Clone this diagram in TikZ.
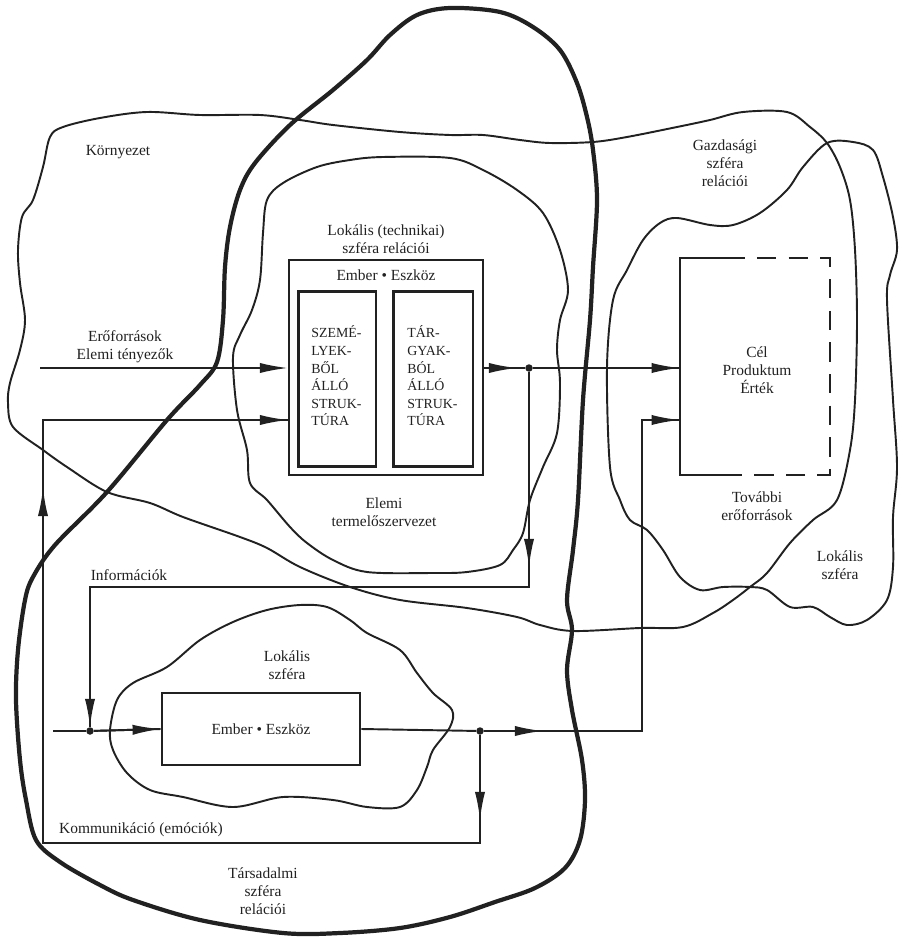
\documentclass[tikz,border=0pt]{standalone}
\usepackage{fontspec}
\setmainfont{Liberation Serif}
\usetikzlibrary{arrows.meta}
\definecolor{ink}{gray}{0.13}
\begin{document}
\begin{tikzpicture}[x=0.02cm,y=-0.02cm,
 every node/.style={font=\fontsize{8.8}{10.2}\selectfont, text=ink, inner sep=0pt},
 blob/.style={draw=ink, line width=1.1pt, line join=round},
 thickblob/.style={draw=ink, line width=2.4pt, line join=round},
 conn/.style={draw=ink, line width=1.1pt},
 arr/.style={draw=ink, line width=1.1pt, -{Latex[length=16pt,width=5.8pt]}},
 dot/.style={circle, fill=ink, minimum size=0.15cm, inner sep=0pt},
 lbl/.style={align=center},
 capsbox/.style={draw=ink, line width=1.7pt, minimum height=3.52cm},
 capstext/.style={anchor=west, align=left, font=\fontsize{7.9}{10}\selectfont}]

\useasboundingbox (0,0) rectangle (902,939);

% ---------- spheres ----------
% Környezet
\draw[blob] plot[smooth cycle, tension=0.55] coordinates {
 (63,127) (100,118) (147,112) (200,115) (260,115) (300,120) (333,125) (400,132)
 (450,135) (483,135) (520,140) (550,143) (593,142) (627,137) (677,127) (710,120)
 (743,112) (787,112) (810,127) (827,143) (840,167) (850,200) (855,250) (857,320)
 (855,400) (850,450) (837,500) (813,520) (790,543) (767,573) (750,587) (733,600)
 (713,613) (683,627) (640,628) (573,631) (540,625) (517,617) (467,608) (400,600)
 (350,587) (300,567) (267,548) (240,537) (183,517) (150,503) (107,492) (67,467)
 (43,450) (13,427) (8,403) (10,383) (20,350) (25,320) (20,283) (18,250) (22,217)
 (33,200) (43,167) (50,137)};
% Lokális (technikai)
\draw[blob] plot[smooth cycle, tension=0.55] coordinates {
 (267,200) (283,183) (317,167) (350,160) (383,157) (450,158) (483,170) (517,190)
 (543,213) (560,250) (568,290) (560,320) (557,350) (560,383) (557,433) (543,467)
 (530,500) (523,533) (513,550) (500,565) (467,572) (433,573) (367,572) (333,560)
 (307,543) (290,527) (267,500) (250,483) (247,450) (237,410) (233,357) (240,335)
 (252,310) (260,280) (263,233)};
% right Lokális szféra
\draw[blob] plot[smooth cycle, tension=0.55] coordinates {
 (627,270) (643,240) (660,223) (677,218) (710,225) (733,225) (760,213) (787,190)
 (803,167) (827,143) (853,142) (873,150) (883,177) (893,217) (897,250) (890,275)
 (887,300) (893,400) (897,467) (893,517) (893,567) (887,600) (867,620) (847,625)
 (830,617) (813,607) (790,607) (767,590) (750,587) (723,587) (700,590) (680,577)
 (663,550) (647,530) (630,520) (620,500) (610,467) (607,367) (613,300)};
% lower Lokális szféra
\draw[blob] plot[smooth cycle, tension=0.55] coordinates {
 (110,730) (117,700) (133,683) (167,667) (200,640) (233,622) (267,610) (300,605)
 (327,607) (350,620) (367,633) (400,650) (417,673) (433,693) (452,710) (450,727)
 (433,750) (427,767) (417,790) (400,807) (367,807) (333,800) (283,797) (233,807)
 (183,797) (150,790) (127,773) (113,750)};
% Társadalmi szféra (thick)
\draw[thickblob] plot[smooth cycle, tension=0.55] coordinates {
 (450,8) (500,12) (533,27) (560,50) (577,83) (587,117) (593,150) (597,200)
 (593,267) (590,320) (583,400) (578,500) (573,550) (567,600) (572,630) (567,670)
 (572,710) (582,760) (585,800) (580,840) (565,868) (535,888) (495,902) (450,917)
 (400,928) (340,933) (283,933) (200,920) (133,900) (100,885) (60,862) (36,840)
 (26,800) (20,760) (16,700) (18,650) (25,600) (33,577) (55,545) (107,492)
 (167,420) (200,385) (217,362) (223,320) (225,267) (230,227) (240,190) (255,163)
 (290,125) (333,90) (367,60) (390,35) (417,15)};

% ---------- boxes ----------
\node[draw=ink, line width=1.1pt, minimum width=3.88cm, minimum height=4.30cm] (outer) at (386,367.5) {};
\node[capsbox, minimum width=1.56cm] (pers) at (337,379) {};
\node[capsbox, minimum width=1.60cm] (obj) at (433,379) {};
\node (ee1) at (386,275) {Ember • Eszköz};
\node[capstext] (perst) at (311,376) {SZEMÉ-\\LYEK-\\BŐL\\ÁLLÓ\\STRUK-\\TÚRA};
\node[capstext] (objt) at (407,376) {TÁR-\\GYAK-\\BÓL\\ÁLLÓ\\STRUK-\\TÚRA};

\node[minimum width=3.0cm, minimum height=4.34cm] (cel) at (755,366.5) {};
\draw[draw=ink, line width=1.3pt] ([xshift=1.3cm]cel.north west) -- (cel.north west) -- (cel.south west) -- ([xshift=1.2cm]cel.south west);
\draw[draw=ink, line width=1.3pt, dash pattern=on 11pt off 7pt, dash phase=11pt] ([xshift=1.3cm]cel.north west) -- (cel.north east) -- (cel.south east) -- ([xshift=1.2cm]cel.south west);

\node[draw=ink, line width=1.5pt, minimum width=3.96cm, minimum height=1.44cm] (lowbox) at (261,729) {Ember • Eszköz};

% ---------- dots & coordinates ----------
\node[dot] (d1) at (529,368) {};
\node[dot] (d2) at (90,731) {};
\node[dot] (d3) at (480,731) {};
\coordinate (inA) at (40,368);
\coordinate (t1) at (517,368);
\coordinate (t2) at (529,567);
\coordinate (c1) at (529,587);
\coordinate (c2) at (90,587);
\coordinate (inB) at (53,731);
\coordinate (t3) at (543,731);
\coordinate (c3) at (642,731);
\coordinate (c4) at (642,420);
\coordinate (t4) at (480,820);
\coordinate (c5) at (480,843);
\coordinate (c6) at (43,843);
\coordinate (t5) at (43,488);
\coordinate (c7) at (43,420);

% ---------- connectors (continuous lines) ----------
\draw[conn] (outer.east |- d1) -- (d1) -- (d1 -| cel.west);
\draw[conn] (d1) -- (c1) -- (c2) -- (d2);
\draw[conn] (inB) -- (d2) -- (lowbox.west);
\draw[conn] (lowbox.east) -- (d3) -- (c3) -- (c4) -- (c4 -| cel.west);
\draw[conn] (d3) -- (c5) -- (c6) -- (c7) -- (c7 -| outer.west);
% ---------- arrowheads ----------
\draw[arr] (inA) -- (inA -| outer.west);
\draw[arr] (outer.east |- d1) -- (t1);
\draw[arr] (d1) -- (d1 -| cel.west);
\draw[arr] (d1) -- (t2);
\draw[arr] (c2) -- (d2);
\draw[arr] (d2) -- (lowbox.west);
\draw[arr] (d3) -- (t3);
\draw[arr] (c4) -- (c4 -| cel.west);
\draw[arr] (d3) -- (t4);
\draw[arr] (c6) -- (t5);
\draw[arr] (c7) -- (c7 -| outer.west);

% ---------- labels ----------
\node (kor) at (118,152) {Környezet};
\node[lbl] (gaz) at (725,163) {Gazdasági\\szféra\\relációi};
\node[lbl] (lokt) at (386,239) {Lokális (technikai)\\szféra relációi};
\node[lbl] (ero) at (125,347) {Erőforrások\\Elemi tényezők};
\node[lbl] (celt) at (757,370) {Cél\\Produktum\\Érték};
\node[lbl] (tov) at (757,506) {További\\erőforrások};
\node[lbl] (lokr) at (840,565) {Lokális\\szféra};
\node[lbl] (elemi) at (384,512) {Elemi\\termelőszervezet};
\node (info) at (129,575) {Információk};
\node[lbl] (lokl) at (287,665) {Lokális\\szféra};
\node (komm) at (141,830) {Kommunikáció (emóciók)};
\node[lbl] (tars) at (263,891) {Társadalmi\\szféra\\relációi};
\end{tikzpicture}
\end{document}
